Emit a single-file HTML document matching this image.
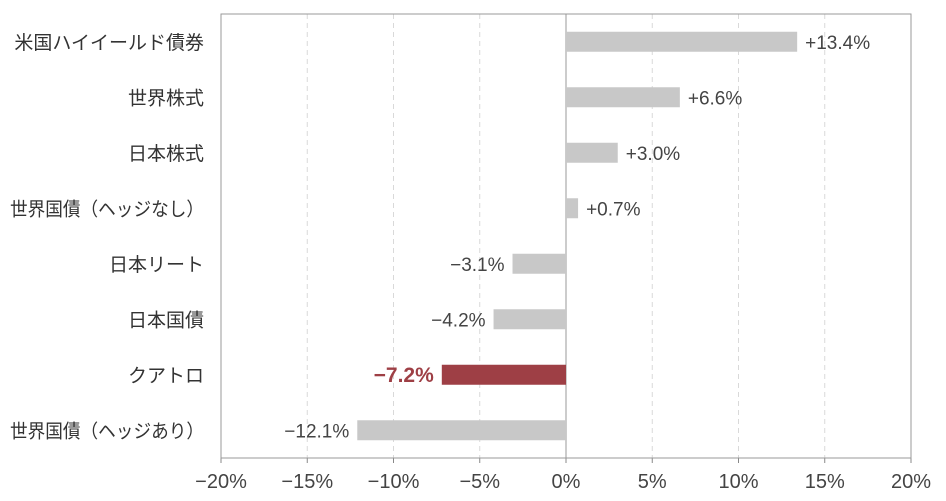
<!DOCTYPE html>
<html><head><meta charset="utf-8"><style>
body{margin:0;background:#fff;}
svg{display:block;font-family:"Liberation Sans Narrow","Liberation Sans","Noto Sans CJK JP",sans-serif;}
</style></head><body>
<svg id="chart" width="946" height="501" viewBox="0 0 946 501"></svg>
<script>
const categories=["米国ハイイールド債券","世界株式","日本株式","世界国債（ヘッジなし）","日本リート","日本国債","クアトロ","世界国債（ヘッジあり）"];
const values=[13.4,6.6,3.0,0.7,-3.1,-4.2,-7.2,-12.1];
const valueLabels=["+13.4%","+6.6%","+3.0%","+0.7%","−3.1%","−4.2%","−7.2%","−12.1%"];
const highlight=[false,false,false,false,false,false,true,false];
const ticks=[-20,-15,-10,-5,0,5,10,15,20];
const tickLabels=["−20%","−15%","−10%","−5%","0%","5%","10%","15%","20%"];
const L=221,R=911,T=14,B=458;
const x=v=>L+(v+20)/40*(R-L);
const rowH=(B-T)/categories.length;
const y=i=>T+rowH*(i+0.5);
const svg=document.getElementById('chart');
const NS='http://www.w3.org/2000/svg';
function mk(tag,attrs,parent){const e=document.createElementNS(NS,tag);for(const k in attrs)e.setAttribute(k,attrs[k]);(parent||svg).appendChild(e);return e;}
ticks.forEach((t,i)=>{
  if(t!==0&&t!==20&&t!==-20){const g=mk('line',{x1:x(t),x2:x(t),y1:T,y2:B,stroke:'#d9d9d9','stroke-dasharray':'5,4'});
  
  }
  const tk=mk('line',{x1:x(t),x2:x(t),y1:B,y2:B+5,stroke:'#888'});
  
  
  const tl=mk('text',{x:x(t),y:B+30,'text-anchor':'middle','font-size':20,fill:'#444'});
  tl.textContent=tickLabels[i];
  
  
});
const frame=mk('rect',{x:L,y:T,width:R-L,height:B-T,fill:'none',stroke:'#999'});


const zl=mk('line',{x1:x(0),x2:x(0),y1:T,y2:B,stroke:'#999'});


categories.forEach((c,i)=>{
  const v=values[i],cy=y(i);
  const bar=mk('rect',{x:Math.min(x(0),x(v)),y:cy-10,width:Math.abs(x(v)-x(0)),height:20,fill:highlight[i]?'#9e3f45':'#c8c8c8'});
  
  
  const attrs={x:204,y:cy+7,'text-anchor':'end','font-size':19,fill:'#333'};
  if(c.length>10){attrs.textLength=194;attrs.lengthAdjust='spacingAndGlyphs';}
  const cl=mk('text',attrs);
  cl.textContent=c;
  
  
  const pos=v>=0;
  const vl=mk('text',{x:pos?x(v)+8:x(v)-8,y:cy+7,'text-anchor':pos?'start':'end','font-size':highlight[i]?21:19,'font-weight':highlight[i]?'bold':'normal',fill:highlight[i]?'#9e3f45':'#444'});
  vl.textContent=valueLabels[i];
  
  
});
</script>
</body></html>
